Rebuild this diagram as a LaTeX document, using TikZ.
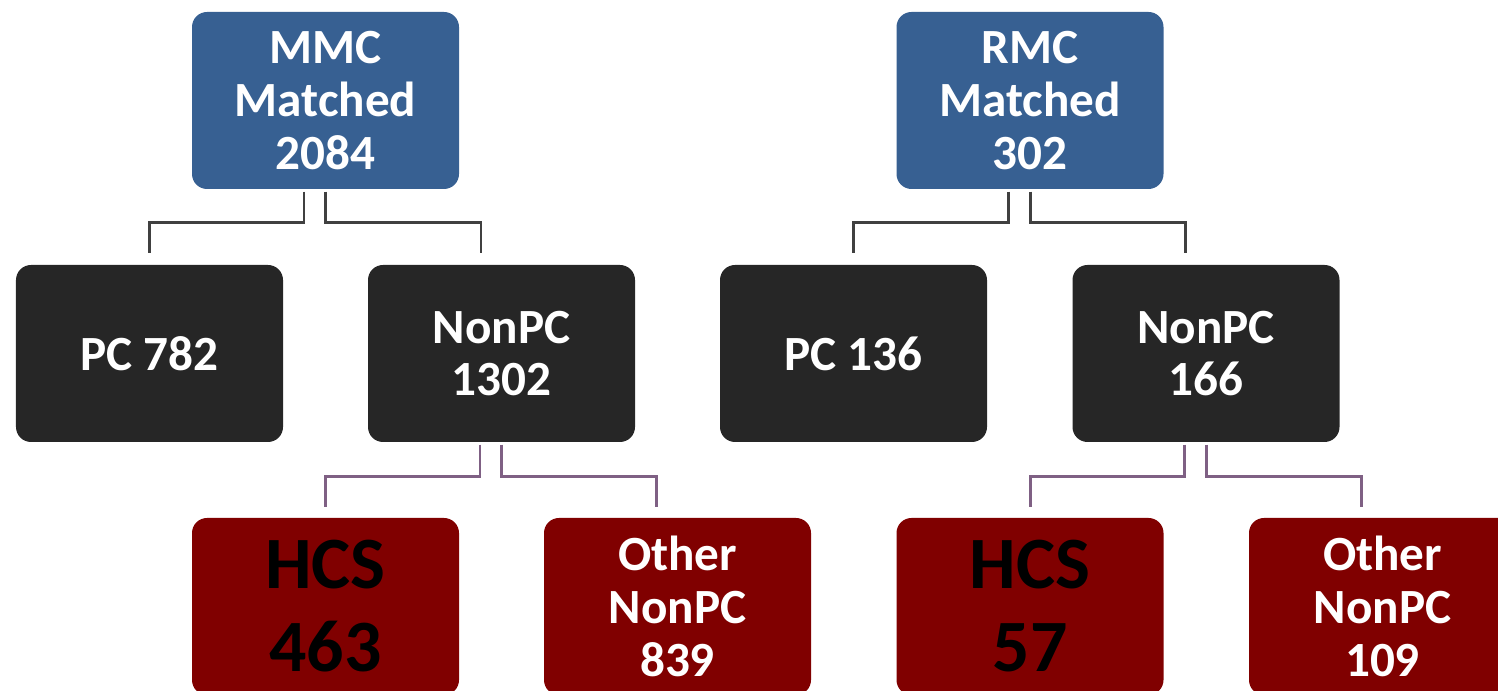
\documentclass[tikz,border=0pt]{standalone}
\usepackage{fontspec}
\setmainfont{Carlito}
\usepackage{tikz}
\usetikzlibrary{shapes,arrows,positioning}

\definecolor{TopBlue}{RGB}{55,96,146}
\definecolor{MidGrey}{RGB}{38,38,38}
\definecolor{LowRed}{RGB}{128,0,0}
\definecolor{LinkGrey}{RGB}{64,64,64}
\definecolor{LinkPurple}{RGB}{127,96,132}

\begin{document}
\begin{tikzpicture}
			\tikzstyle{Box}		= [rectangle, rounded corners=1.5mm, minimum width=2.67cm, minimum height=1.77cm, inner sep=0pt, align=center, font=\bfseries\fontsize{14}{15}\selectfont]
			\tikzstyle{Root}	= [fill=TopBlue, text=white]
			\tikzstyle{Split}	= [fill=MidGrey, text=white]
			\tikzstyle{Leaf}	= [fill=LowRed, text=white]
			\tikzstyle{Big}		= [text=black, font=\bfseries\fontsize{21}{23.6}\selectfont]
			\tikzstyle{LinkA}	= [LinkGrey, line width=0.85pt]
			\tikzstyle{LinkB}	= [LinkPurple, line width=0.85pt]

			\useasboundingbox (0,0) rectangle (14.98,-6.91);
			\clip (0,0) rectangle (14.98,-6.91);

			% top row
			\node (mmc) at (3.255, -1.005) [Box][Root] {MMC\\Matched\\2084};
			\node (rmc) at (10.30, -1.005) [Box][Root] {RMC\\Matched\\302};

			% middle row
			\node (pc1) at (1.495, -3.535) [Box][Split] {PC 782};
			\node (np1) at (5.015, -3.535) [Box][Split] {NonPC\\1302};
			\node (pc2) at (8.535, -3.535) [Box][Split] {PC 136};
			\node (np2) at (12.06, -3.535) [Box][Split] {NonPC\\166};

			% bottom row
			\node (hcs1) at (3.255, -6.065) [Box][Leaf][Big] {HCS\\463};
			\node (oth1) at (6.775, -6.065) [Box][Leaf] {Other\\NonPC\\839};
			\node (hcs2) at (10.30, -6.065) [Box][Leaf][Big] {HCS\\57};
			\node (oth2) at (13.825, -6.065) [Box][Leaf] {Other\\NonPC\\109};

			\draw [-] ([xshift=-2.15mm, yshift=-0.2mm]mmc.south) -- ++(0,-0.31) -| ([yshift=1.1mm]pc1.north) [LinkA];
			\draw [-] ([yshift=-0.2mm]mmc.south) -- ++(0,-0.31) -| ([xshift=-2.05mm, yshift=1.1mm]np1.north) [LinkA];
			\draw [-] ([xshift=-2.15mm, yshift=-0.2mm]rmc.south) -- ++(0,-0.31) -| ([yshift=1.1mm]pc2.north) [LinkA];
			\draw [-] ([yshift=-0.2mm]rmc.south) -- ++(0,-0.31) -| ([xshift=-2.05mm, yshift=1.1mm]np2.north) [LinkA];

			\draw [-] ([xshift=-2.15mm, yshift=-0.2mm]np1.south) -- ++(0,-0.32) -| ([yshift=1mm]hcs1.north) [LinkB];
			\draw [-] ([yshift=-0.2mm]np1.south) -- ++(0,-0.32) -| ([xshift=-2.15mm, yshift=1mm]oth1.north) [LinkB];
			\draw [-] ([xshift=-2.15mm, yshift=-0.2mm]np2.south) -- ++(0,-0.32) -| ([yshift=1mm]hcs2.north) [LinkB];
			\draw [-] ([yshift=-0.2mm]np2.south) -- ++(0,-0.32) -| ([xshift=-2.15mm, yshift=1mm]oth2.north) [LinkB];
		\end{tikzpicture}
\end{document}
